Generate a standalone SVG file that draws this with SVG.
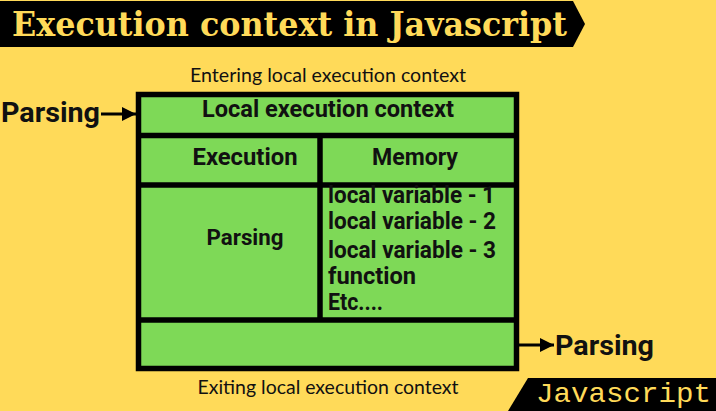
<svg xmlns="http://www.w3.org/2000/svg" width="716" height="411" viewBox="0 0 716 411">
<defs>
<style>
.b{font-family:Roboto,"Liberation Sans",sans-serif;font-weight:bold;fill:#111}
.l{font-family:Lato,"Liberation Sans",sans-serif;fill:#111}
.cell{fill:#7ED957}
.ln{stroke:#000;stroke-width:5.5;fill:none}
</style>
<marker id="ah" markerWidth="14" markerHeight="14" refX="12" refY="6" orient="auto" markerUnits="userSpaceOnUse" viewBox="0 0 12 12">
<path d="M0,0 L12,6 L0,12 z" fill="#000"/>
</marker>
</defs>
<rect width="716" height="411" fill="#FFDA59"/>
<g id="title">
<path d="M0,1 H573 L585,24 L573,47 H0 z" fill="#000"/>
<text x="12" y="36" font-family="'DejaVu Serif','Liberation Serif',serif" font-weight="bold" font-size="34" fill="#FFDA59" textLength="555" lengthAdjust="spacingAndGlyphs">Execution context in Javascript</text>
</g>
<g id="brand">
<path d="M528,378 H716 V411 H508 z" fill="#000"/>
<text x="536" y="402" font-family="'Liberation Mono','DejaVu Sans Mono',monospace" font-size="28" fill="#FFDA59" textLength="175" lengthAdjust="spacingAndGlyphs">Javascript</text>
</g>
<g id="box">
<rect class="cell" x="139" y="94" width="378" height="274"/>
<rect class="ln" x="138.5" y="94.5" width="378" height="274"/>
<line class="ln" x1="138" y1="135.5" x2="517" y2="135.5"/>
<line class="ln" x1="138" y1="185" x2="517" y2="185"/>
<line class="ln" x1="138" y1="320" x2="517" y2="320"/>
<line class="ln" x1="320" y1="135" x2="320" y2="320"/>
</g>
<g id="header"><text class="b" x="328" y="117" font-size="23" text-anchor="middle" textLength="252" lengthAdjust="spacingAndGlyphs">Local execution context</text></g>
<g id="execution"><text class="b" x="245" y="165" font-size="23" text-anchor="middle" textLength="105" lengthAdjust="spacingAndGlyphs">Execution</text></g>
<g id="memory"><text class="b" x="415" y="165" font-size="23" text-anchor="middle" textLength="86" lengthAdjust="spacingAndGlyphs">Memory</text></g>
<g id="parsing-exec"><text class="b" x="245" y="245" font-size="22.5" text-anchor="middle" textLength="77" lengthAdjust="spacingAndGlyphs">Parsing</text></g>
<g id="memory-list" class="b" font-size="23">
<text x="328" y="203" textLength="167" lengthAdjust="spacingAndGlyphs">local variable - 1</text>
<text x="328" y="229" textLength="168" lengthAdjust="spacingAndGlyphs">local variable - 2</text>
<text x="328" y="258" textLength="168" lengthAdjust="spacingAndGlyphs">local variable - 3</text>
<text x="328" y="284" textLength="88" lengthAdjust="spacingAndGlyphs">function</text>
<text x="328" y="310" textLength="55" lengthAdjust="spacingAndGlyphs">Etc....</text>
</g>
<g id="entering"><text class="l" x="328" y="82" font-size="19.5" text-anchor="middle" textLength="276" lengthAdjust="spacingAndGlyphs">Entering local execution context</text></g>
<g id="exiting"><text class="l" x="328" y="394" font-size="19.5" text-anchor="middle" textLength="261" lengthAdjust="spacingAndGlyphs">Exiting local execution context</text></g>
<g id="parsing-in"><text class="b" x="1" y="122" font-size="28.5" textLength="99" lengthAdjust="spacingAndGlyphs">Parsing</text></g>
<g id="parsing-out"><text class="b" x="555" y="355" font-size="28.5" textLength="99" lengthAdjust="spacingAndGlyphs">Parsing</text></g>
<g id="connectors">
<line x1="101" y1="114" x2="136" y2="114" stroke="#000" stroke-width="3" marker-end="url(#ah)"/>
<line x1="519" y1="345" x2="554" y2="345" stroke="#000" stroke-width="3" marker-end="url(#ah)"/>
</g>
</svg>
